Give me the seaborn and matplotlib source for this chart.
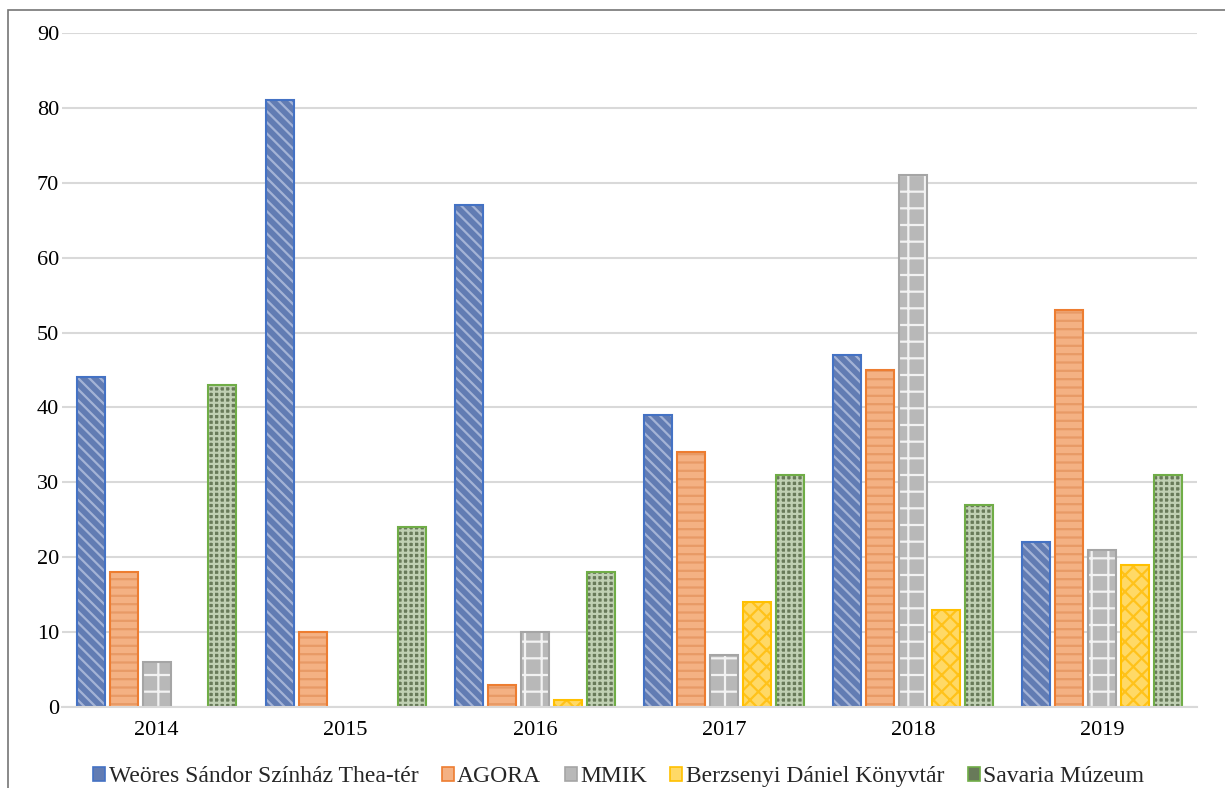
import pandas as pd
import matplotlib.pyplot as plt
import seaborn as sns
from matplotlib.patches import Patch, Rectangle
from matplotlib.colors import to_rgba

years = ['2014', '2015', '2016', '2017', '2018', '2019']
series = ['Weöres Sándor Színház Thea-tér', 'AGORA', 'MMIK',
          'Berzsenyi Dániel Könyvtár', 'Savaria Múzeum']
weores = [44, 81, 67, 39, 47, 22]
agora = [18, 10, 3, 34, 45, 53]
mmik = [6, 0, 10, 7, 71, 21]
berzsenyi = [0, 0, 1, 14, 13, 19]
savaria = [43, 24, 18, 31, 27, 31]

rows = []
for name, vals in zip(series, [weores, agora, mmik, berzsenyi, savaria]):
    for y, v in zip(years, vals):
        rows.append({'ev': y, 'intezmeny': name, 'ertek': v})
df = pd.DataFrame(rows)

# edge, face, hatch colour, hatch pattern
styles = {
    series[0]: ('#4472C4', '#627cb3', '#a4b3d6', '\\\\\\'),
    series[1]: ('#ED7D31', '#f4b183', '#e89a66', '--'),
    series[2]: ('#A5A5A5', '#b8b8b8', '#f2f2f2', '+'),
    series[3]: ('#FFC000', '#ffd966', '#ffc21a', 'xx'),
    series[4]: ('#70AD47', '#687a59', '#c0d0b3', '+++'),
}

sns.set_style('white')
plt.rcParams['font.family'] = ['Liberation Serif', 'DejaVu Serif']
plt.rcParams['hatch.linewidth'] = 1.6

fig = plt.figure(figsize=(12.25, 7.88), dpi=100)
ax = fig.add_axes([0.0506, 0.1028, 0.9264, 0.8553])

sns.barplot(data=df, x='ev', y='ertek', hue='intezmeny', hue_order=series,
            order=years, width=0.87, gap=0.15, legend=False, ax=ax)

# colour the bars, patches come ordered by hue then year
n = len(years)
for i, p in enumerate(ax.patches):
    edge, face, hcol, hatch = styles[series[i // n]]
    p.set_facecolor(face)
    p.set_edgecolor(edge)
    p.set_hatch(hatch)
    p._hatch_color = to_rgba(hcol)
    p.set_linewidth(1.5 if p.get_height() > 0 else 0)

ax.set_ylim(0, 90)
ax.set_yticks(range(0, 91, 10))
ax.yaxis.grid(True, color='#d9d9d9', linewidth=1.5)
ax.set_axisbelow(True)
for s in ['top', 'right', 'left']:
    ax.spines[s].set_visible(False)
ax.spines['bottom'].set_color('#d9d9d9')
ax.spines['bottom'].set_linewidth(1.5)
ax.tick_params(axis='both', length=0, labelsize=16, colors='#000000')
ax.tick_params(axis='y', pad=2)
ax.tick_params(axis='x', pad=10)
ax.set_xlabel('')
ax.set_ylabel('')

handles = []
for name in series:
    edge, face, hcol, hatch = styles[name]
    h = Patch(facecolor=face, edgecolor=edge, linewidth=1.2, label=name)
    handles.append(h)
fig.legend(handles=handles, loc='lower center', bbox_to_anchor=(0.505, -0.026),
           ncol=5, frameon=False, fontsize=17, handlelength=0.5, handleheight=0.5,
           handletextpad=0.15, columnspacing=1.0)

# thin frame like the cropped chart border
fig.add_artist(Rectangle((8 / 1225, -0.01), 1.2, 1 - 10 / 788 + 0.01,
                         transform=fig.transFigure, fill=False,
                         edgecolor='#767676', linewidth=1.2))

plt.savefig('out.png', dpi=100)
